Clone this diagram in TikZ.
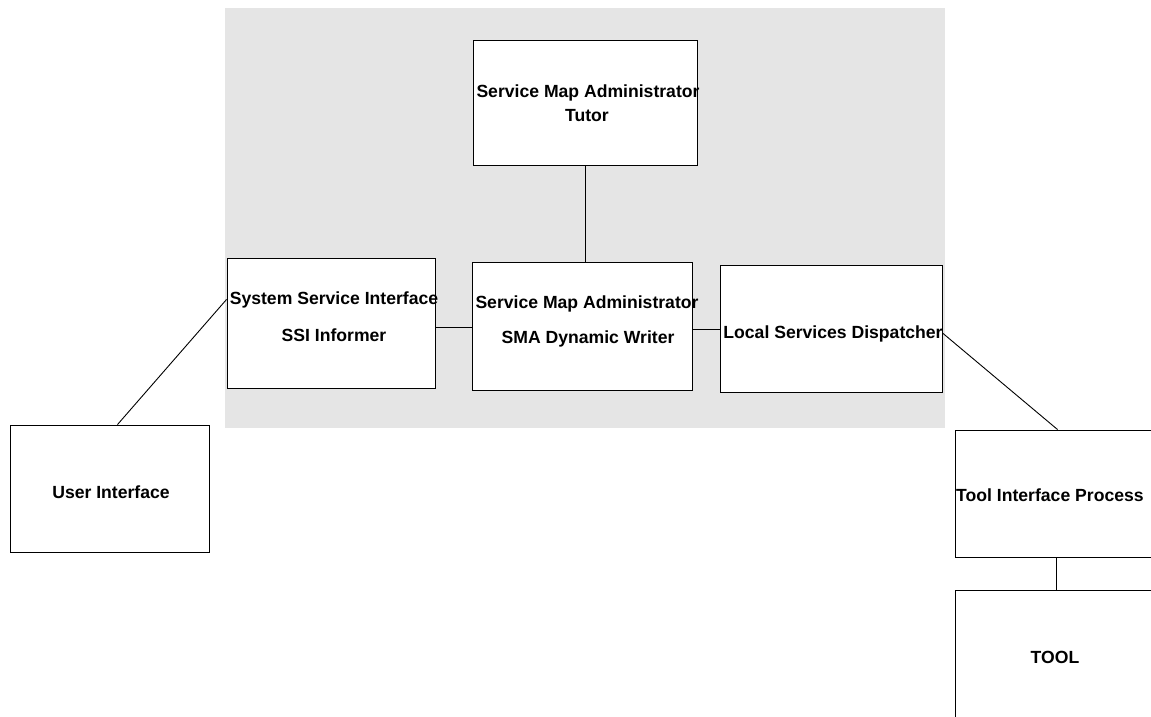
\documentclass[tikz,border=0pt]{standalone}
\usepackage{fontspec}
\setmainfont{Liberation Sans}
\usetikzlibrary{calc}
\begin{document}
\begin{tikzpicture}[x=1pt,y=-1pt,
  box/.style={draw=black, line width=0.9pt, fill=white, rectangle, inner sep=0pt},
  lbl/.style={font=\fontsize{17.6}{20}\selectfont\bfseries, inner sep=0pt, anchor=base},
  link/.style={draw=black, line width=0.9pt}]
\useasboundingbox (0,0) rectangle (1151,717);
\clip (0,0) rectangle (1151,717);
\fill[gray!20] (225,8) rectangle (945,428);
% boxes
\node[box, minimum width=224pt, minimum height=125pt] (tutor) at (585,102.5) {};
\node[box, minimum width=208pt, minimum height=130pt] (ssi) at (331,323) {};
\node[box, minimum width=220pt, minimum height=128pt] (sma) at (582,326) {};
\node[box, minimum width=222pt, minimum height=127pt] (lsd) at (831,328.5) {};
\node[box, minimum width=199pt, minimum height=127pt] (ui) at (109.5,488.5) {};
\node[box, minimum width=245pt, minimum height=127pt] (tip) at (1077.5,493.5) {};
\node[box, minimum width=245pt, minimum height=170pt] (tool) at (1077.5,675) {};
% labels
\node[lbl] (t1) at (588,97) {Service Map Administrator};
\node[lbl] (t2) at (587,121) {Tutor};
\node[lbl] (s1) at (334,304) {System Service Interface};
\node[lbl] (s2) at (334,341) {SSI Informer};
\node[lbl] (m1) at (587,308) {Service Map Administrator};
\node[lbl] (m2) at (588,343) {SMA Dynamic Writer};
\node[lbl] (l1) at (833,338) {Local Services Dispatcher};
\node[lbl] (u1) at (111,498) {User Interface};
\node[lbl, anchor=base west] (p1) at (956,501) {Tool Interface Process};
\node[lbl] (o1) at (1055,663) {TOOL};
% connectors
\draw[link] (tutor.south) -- (tutor.south |- sma.north);
\draw[link] (ssi.east |- 0,327) -- (sma.west |- 0,327);
\draw[link] (sma.east |- 0,329) -- (lsd.west |- 0,329);
\draw[link] ($(ssi.north west)!0.32!(ssi.south west)$) -- ($(ui.north west)!0.54!(ui.north east)$);
\draw[link] ($(lsd.north east)!0.535!(lsd.south east)$) -- ($(tip.north west)+(103,0)$);
\draw[link] ($(tip.south west)+(102,0)$) -- ($(tool.north west)+(102,0)$);
\end{tikzpicture}
\end{document}
